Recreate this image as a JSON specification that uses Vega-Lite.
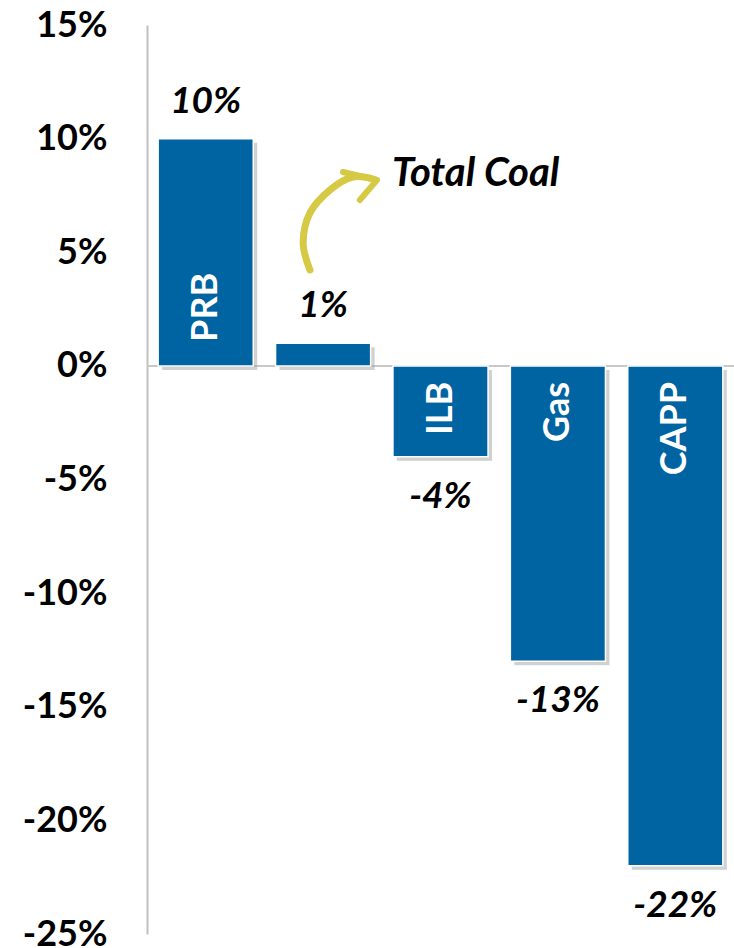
{
  "$schema": "https://vega.github.io/schema/vega-lite/v6.json",
  "autosize": {"type": "none"},
  "padding": {"left": 147, "top": 25, "right": 0, "bottom": 14},
  "width": 587,
  "height": 909,
  "background": "white",
  "config": {"view": {"stroke": null}},
  "datasets": {
    "bars": [
      {"cat": "PRB", "value": 10, "pct": "10%", "label": "PRB"},
      {"cat": "Total Coal", "value": 1, "pct": "1%", "label": ""},
      {"cat": "ILB", "value": -4, "pct": "-4%", "label": "ILB"},
      {"cat": "Gas", "value": -13, "pct": "-13%", "label": "Gas"},
      {"cat": "CAPP", "value": -22, "pct": "-22%", "label": "CAPP"}
    ],
    "shaft": [
      {"i": 0, "x": 0.888, "y": 4.22},
      {"i": 1, "x": 0.83, "y": 5.41},
      {"i": 2, "x": 0.888, "y": 6.73},
      {"i": 3, "x": 1.058, "y": 7.74},
      {"i": 4, "x": 1.254, "y": 8.31},
      {"i": 5, "x": 1.44, "y": 8.2}
    ],
    "head": [
      {"i": 0, "x": 1.169, "y": 8.53},
      {"i": 1, "x": 1.459, "y": 8.18},
      {"i": 2, "x": 1.313, "y": 7.3}
    ],
    "note": [{"x": 1.587, "y": 8.44, "text": "Total Coal"}]
  },
  "resolve": {"scale": {"x": "independent"}},
  "layer": [
    {
      "data": {"values": [{"v": 0}]},
      "mark": {"type": "rule", "color": "#C8C8C8", "strokeWidth": 2},
      "encoding": {
        "y": {"field": "v", "type": "quantitative", "scale": {"domain": [-25, 15], "nice": false, "zero": false},
          "axis": {"values": [-25, -20, -15, -10, -5, 0, 5, 10, 15], "labelExpr": "datum.value + '%'", "ticks": false, "grid": false, "domain": true, "domainColor": "#C0C0C0", "domainWidth": 2, "labelPadding": 40, "labelFont": "Lato", "labelFontSize": 36, "labelFontWeight": "bold", "labelColor": "#000000", "title": null}}
      }
    },
    {
      "data": {"name": "bars"},
      "layer": [
        {
          "mark": {"type": "bar", "color": "#9a9a9a", "opacity": 0.45, "xOffset": 4, "yOffset": 4},
          "encoding": {
            "x": {"field": "cat", "type": "nominal", "sort": null, "scale": {"paddingInner": 0.19, "paddingOuter": 0.095}, "axis": null},
            "y": {"field": "value", "type": "quantitative"}
          }
        },
        {
          "mark": {"type": "bar", "color": "#0063A2", "stroke": "white", "strokeWidth": 1.5},
          "encoding": {
            "x": {"field": "cat", "type": "nominal", "sort": null, "axis": null},
            "y": {"field": "value", "type": "quantitative"}
          }
        },
        {
          "transform": [{"filter": "datum.value >= 0"}],
          "mark": {"type": "text", "font": "Lato", "fontSize": 37, "fontWeight": "bold", "fontStyle": "italic", "baseline": "middle", "dy": -37, "color": "#000000"},
          "encoding": {
            "x": {"field": "cat", "type": "nominal", "sort": null, "axis": null},
            "y": {"field": "value", "type": "quantitative"},
            "text": {"field": "pct"}
          }
        },
        {
          "transform": [{"filter": "datum.value < 0"}],
          "mark": {"type": "text", "font": "Lato", "fontSize": 37, "fontWeight": "bold", "fontStyle": "italic", "baseline": "middle", "dy": 40, "color": "#000000"},
          "encoding": {
            "x": {"field": "cat", "type": "nominal", "sort": null, "axis": null},
            "y": {"field": "value", "type": "quantitative"},
            "text": {"field": "pct"}
          }
        },
        {
          "transform": [{"filter": "datum.value >= 0"}],
          "mark": {"type": "text", "font": "Lato", "fontSize": 36, "fontWeight": "bold", "angle": 270, "align": "left", "baseline": "middle", "dx": 24, "color": "white"},
          "encoding": {
            "x": {"field": "cat", "type": "nominal", "sort": null, "axis": null},
            "y": {"datum": 0, "type": "quantitative"},
            "text": {"field": "label"}
          }
        },
        {
          "transform": [{"filter": "datum.value < 0"}],
          "mark": {"type": "text", "font": "Lato", "fontSize": 36, "fontWeight": "bold", "angle": 270, "align": "right", "baseline": "middle", "dx": -16, "color": "white"},
          "encoding": {
            "x": {"field": "cat", "type": "nominal", "sort": null, "axis": null},
            "y": {"datum": 0, "type": "quantitative"},
            "text": {"field": "label"}
          }
        }
      ]
    },
    {
      "layer": [
        {
          "data": {"name": "shaft"},
          "mark": {"type": "line", "interpolate": "cardinal", "color": "#D6C944", "strokeWidth": 7, "strokeCap": "round"},
          "encoding": {
            "x": {"field": "x", "type": "quantitative", "scale": {"domain": [-0.5, 4.5], "nice": false, "zero": false}, "axis": null},
            "y": {"field": "y", "type": "quantitative"},
            "order": {"field": "i"}
          }
        },
        {
          "data": {"name": "head"},
          "mark": {"type": "line", "color": "#D6C944", "strokeWidth": 6, "strokeCap": "round", "strokeJoin": "round"},
          "encoding": {
            "x": {"field": "x", "type": "quantitative", "axis": null},
            "y": {"field": "y", "type": "quantitative"},
            "order": {"field": "i"}
          }
        },
        {
          "data": {"name": "note"},
          "mark": {"type": "text", "font": "Lato", "fontSize": 40, "fontWeight": "bold", "fontStyle": "italic", "align": "left", "baseline": "middle", "color": "#000000"},
          "encoding": {
            "x": {"field": "x", "type": "quantitative", "axis": null},
            "y": {"field": "y", "type": "quantitative"},
            "text": {"field": "text"}
          }
        }
      ]
    }
  ]
}
